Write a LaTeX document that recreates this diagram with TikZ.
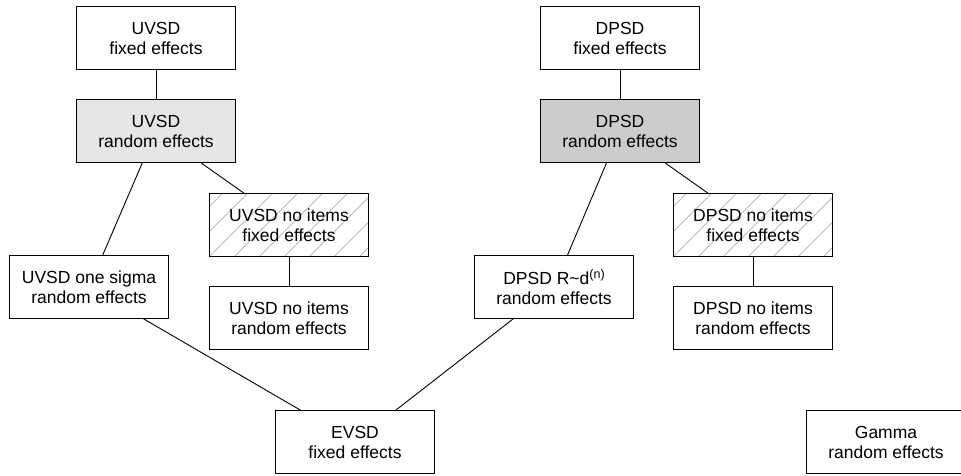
\documentclass[tikz,border=0pt]{standalone}
\usepackage{fontspec}
\setmainfont{Liberation Sans}
\definecolor{lightfill}{HTML}{E6E6E6}
\definecolor{darkfill}{HTML}{CCCCCC}
\definecolor{hatchgray}{HTML}{B0B0B0}
\newcommand{\supn}{\raisebox{6.5pt}{\fontsize{12.5}{12.5}\selectfont (n)}}
\tikzset{
  model/.style={draw=black, line width=1.1pt, fill=white, minimum width=159pt, minimum height=62.5pt,
    inner sep=0pt, align=center, font=\fontsize{17.5}{20}\selectfont},
  lightbox/.style={model, fill=lightfill},
  darkbox/.style={model, fill=darkfill},
  hatchbox/.style={model, path picture={
      \foreach \i in {-75,-50,...,175}{
        \draw[hatchgray, line width=0.7pt]
          ([xshift=\i pt]path picture bounding box.south west) -- ++(80pt,80pt);
      }}},
  link/.style={draw=black, line width=0.9pt}
}
\begin{document}
\begin{tikzpicture}[x=1pt,y=-1pt]
\useasboundingbox (0,0) rectangle (961,475);
\node[model]     (ufix)    at (156,38)  {UVSD\\fixed effects};
\node[lightbox]  (urand)   at (156,131) {UVSD\\random effects};
\node[hatchbox]  (unifix)  at (289,225) {UVSD no items\\fixed effects};
\node[model]     (unirand) at (289,318) {UVSD no items\\random effects};
\node[model]     (usig)    at (89,287)  {UVSD one sigma\\random effects};
\node[model]     (dfix)    at (620,38)  {DPSD\\fixed effects};
\node[darkbox]   (drand)   at (620,131) {DPSD\\random effects};
\node[hatchbox]  (dnifix)  at (753,225) {DPSD no items\\fixed effects};
\node[model]     (dnirand) at (753,318) {DPSD no items\\random effects};
\node[model]     (drd)     at (554,287) {DPSD R\textasciitilde d\supn\\random effects};
\node[model]     (evsd)    at (355,442) {EVSD\\fixed effects};
\node[model]     (gamma)   at (886,442) {Gamma\\random effects};

\draw[link] (ufix) -- (urand);
\draw[link] (urand) -- (usig);
\draw[link] (urand) -- (unifix);
\draw[link] (unifix) -- (unirand);
\draw[link] (usig) -- (evsd);
\draw[link] (dfix) -- (drand);
\draw[link] (drand) -- (drd);
\draw[link] (drand) -- (dnifix);
\draw[link] (dnifix) -- (dnirand);
\draw[link] (drd) -- (evsd);
\end{tikzpicture}
\end{document}
